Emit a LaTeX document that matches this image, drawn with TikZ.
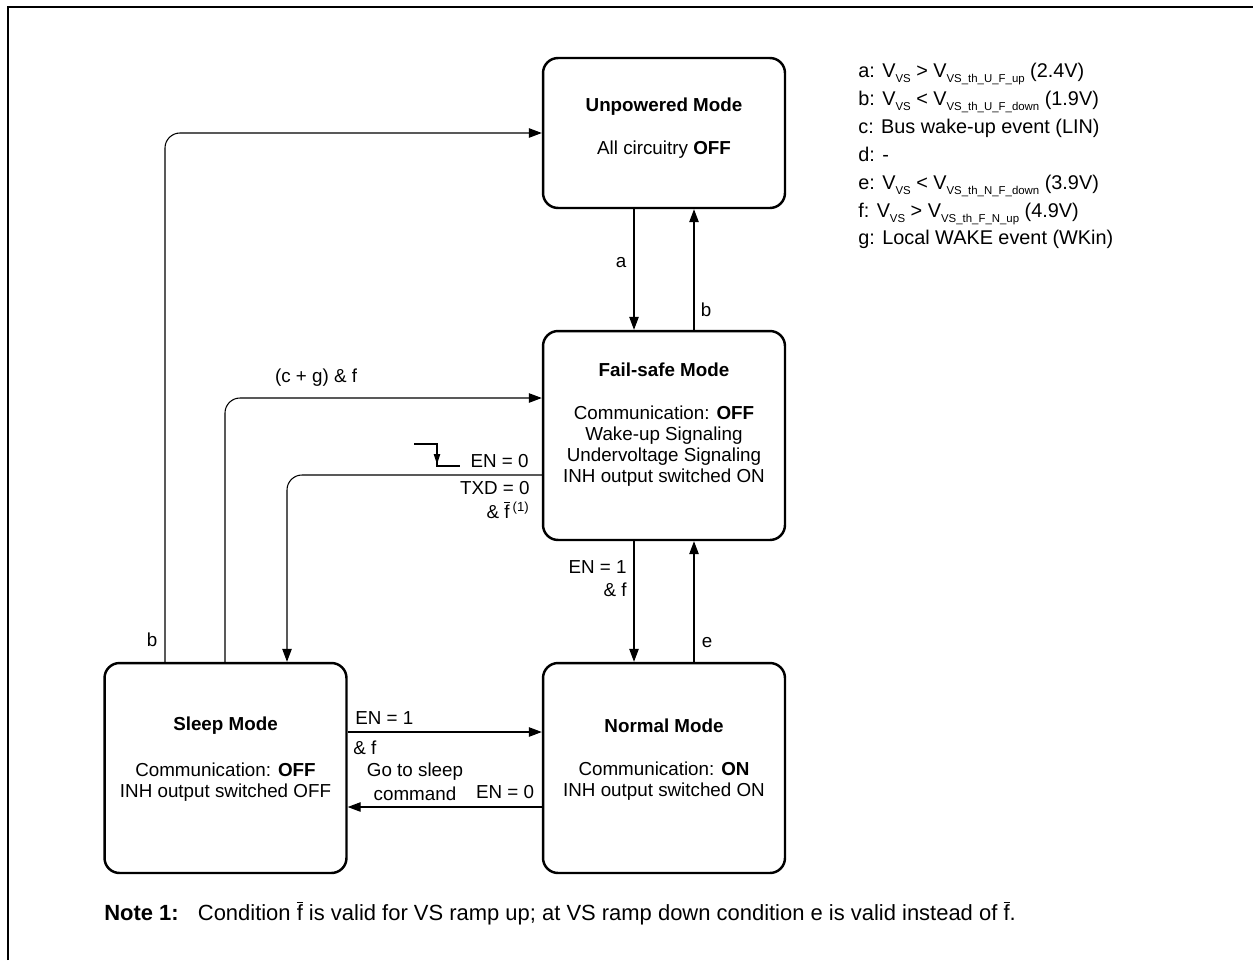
\documentclass[tikz,border=0pt]{standalone}
\usepackage{fontspec}
\setmainfont{Liberation Sans}
\usepackage{tikz}
\usetikzlibrary{arrows.meta}

% small lowered index as in the legend
\newcommand{\vidx}[1]{\raisebox{-0.5ex}{\fontsize{6.5}{6.5}\selectfont #1}}
\newcommand{\fbar}{$\overline{\mbox{f}}$}

\tikzset{
  mode/.style = {rectangle,
      draw = black,
      line width = 1.4pt,
      rounded corners = 0.3cm,
      minimum width = 4.84cm},
  txt/.style = {font = \fontsize{10.7}{12.8}\selectfont,
      inner sep = 0pt},
  wire/.style = {line width = 0.6pt,
      rounded corners = 0.3cm},
  arr/.style = {wire,
      -{Triangle[length = 0.26cm, width = 0.19cm]}},
}

\begin{document}
\begin{tikzpicture}[x = 0.02cm, y = -0.02cm]
  \useasboundingbox (0,0) rectangle (1253,960);

  % frame
  \draw[line width = 1.1pt] (8,960) -- (8,7) -- (1253,7);

  % the four modes
  \node[mode, minimum height = 3cm] (unp) at (664,133) {};
  \node[mode, minimum height = 4.18cm] (fs) at (664,435.5) {};
  \node[mode, minimum height = 4.2cm] (nrm) at (664,768) {};
  \node[mode, minimum height = 4.2cm] (slp) at (225.5,768) {};

  % texts in the modes
  \node[txt] (unpt) at (664,107) {\textbf{Unpowered Mode}};
  \node[txt] (unpb) at (664,150) {All circuitry \textbf{OFF}};

  \node[txt] (fst) at (664,370) {\textbf{Fail-safe Mode}};
  \node[txt,
      align = center,
      font = \fontsize{10.7}{11.9}\selectfont] (fsb) at (664,446)
      {Communication: \textbf{OFF}\\Wake-up Signaling\\Undervoltage Signaling\\INH output switched ON};

  \node[txt] (nrmt) at (664,726) {\textbf{Normal Mode}};
  \node[txt,
      align = center,
      font = \fontsize{10.7}{11.9}\selectfont] (nrmb) at (664,781.5)
      {Communication: \textbf{ON}\\INH output switched ON};

  \node[txt] (slpt) at (225.5,726) {\textbf{Sleep Mode}};
  \node[txt,
      align = center,
      font = \fontsize{10.7}{11.9}\selectfont] (slpb) at (225.5,782)
      {Communication: \textbf{OFF}\\INH output switched OFF};

  % legend
  \node[txt,
      anchor = west,
      align = left,
      font = \fontsize{11.3}{15.9}\selectfont] (legend) at (858,156)
      {a: V\vidx{VS} > V\vidx{VS\_th\_U\_F\_up} (2.4V)\\
       b: V\vidx{VS} < V\vidx{VS\_th\_U\_F\_down} (1.9V)\\
       c: Bus wake-up event (LIN)\\
       d: -\\
       e: V\vidx{VS} < V\vidx{VS\_th\_N\_F\_down} (3.9V)\\
       f: V\vidx{VS} > V\vidx{VS\_th\_F\_N\_up} (4.9V)\\
       g: Local WAKE event (WKin)};

  % where the connectors run
  \coordinate (xa) at (634,0);
  \coordinate (xb) at (694,0);
  \coordinate (xl1) at (165,0);
  \coordinate (xl2) at (225,0);
  \coordinate (xl3) at (287,0);
  \coordinate (ycg) at (0,398);
  \coordinate (yen) at (0,475);
  \coordinate (yup) at (0,732);
  \coordinate (ydn) at (0,807);

  % vertical transitions
  \draw[arr] (xa |- unp.south) -- (xa |- fs.north);
  \draw[arr] (xb |- fs.north) -- (xb |- unp.south);
  \draw[arr] (xa |- fs.south) -- (xa |- nrm.north);
  \draw[arr] (xb |- nrm.north) -- (xb |- fs.south);

  \node[txt] (la) at (621,263) {a};
  \node[txt] (lb) at (706,310) {b};
  \node[txt,
      anchor = east,
      align = right,
      font = \fontsize{10.7}{13}\selectfont] (len1) at (627,578.5) {EN = 1\\\& f};
  \node[txt] (le) at (707,643) {e};

  % transitions out of sleep mode
  \draw[arr] (xl1 |- slp.north) |- (unp.west);
  \draw[arr] (xl2 |- slp.north) |- (fs.west |- ycg);
  \draw[arr] (fs.west |- yen) -| (xl3 |- slp.north);

  \node[txt] (lb2) at (152,640) {b};
  \node[txt] (lcg) at (316,378) {(c + g) \& f};
  \node[txt, anchor = east] (len0) at (529,461) {EN = 0};
  \node[txt,
      anchor = east,
      align = right,
      font = \fontsize{10.7}{13.6}\selectfont] (ltxd) at (530,500)
      {TXD = 0\\\& \fbar\,\textsuperscript{(1)}};

  % falling edge
  \draw[line width = 0.6pt] (414,444) -- (437,444) -- (437,466) -- (460,466);
  \draw[line width = 0.6pt, -{Triangle[length = 0.2cm, width = 0.13cm]}] (437,446) -- (437,464);

  % sleep <-> normal
  \draw[arr] (slp.east |- yup) -- (nrm.west |- yup);
  \draw[arr] (nrm.west |- ydn) -- (slp.east |- ydn);

  \node[txt, anchor = west] (len1b) at (355,718) {EN = 1};
  \node[txt, anchor = west] (lf) at (353,748) {\& f};
  \node[txt,
      align = center,
      font = \fontsize{10.7}{13.5}\selectfont] (lsleep) at (415,782) {Go to sleep\\command};
  \node[txt] (len0b) at (505,792) {EN = 0};

  % note
  \node[txt,
      anchor = west,
      font = \fontsize{12.5}{15}\selectfont] (note) at (104,913)
      {\textbf{Note 1:}\hspace{0.5em} Condition \fbar{} is valid for VS ramp up; at VS ramp down condition e is valid instead of \fbar.};
\end{tikzpicture}
\end{document}
